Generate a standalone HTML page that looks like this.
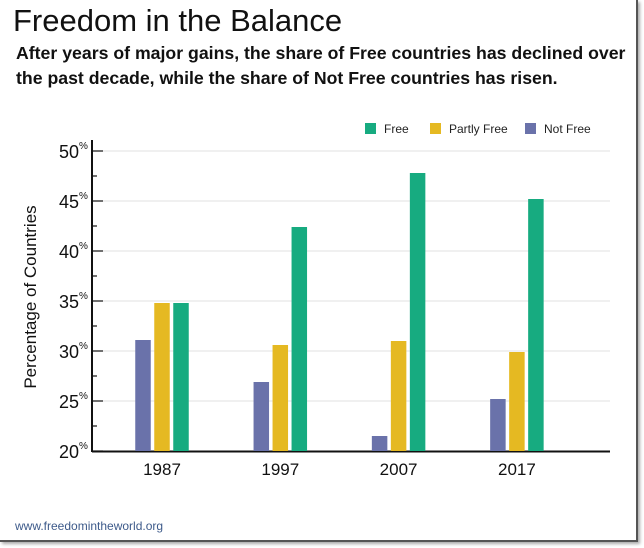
<!DOCTYPE html>
<html><head><meta charset="utf-8"><style>
html,body{margin:0;padding:0;background:#fff;}
body{width:644px;height:548px;overflow:hidden;position:relative;font-family:"Liberation Sans",sans-serif;}
#frame{position:absolute;left:0;top:0;width:636px;height:540px;border-right:2px solid #555;border-bottom:2px solid #555;box-shadow:2px 2px 3px #aaa;}
#title{position:absolute;left:13px;top:3px;font-size:31px;color:#111;}
#sub{position:absolute;left:16px;top:41px;font-size:17.7px;font-weight:bold;line-height:25px;color:#111;}
#foot{position:absolute;left:15px;top:519px;font-size:12px;color:#3d5a8a;}
svg{position:absolute;left:0;top:0;}
</style></head><body>
<div id="frame"></div>
<div id="title">Freedom in the Balance</div>
<div id="sub">After years of major gains, the share of Free countries has declined over<br>the past decade, while the share of Not Free countries has risen.</div>
<div id="foot">www.freedomintheworld.org</div>
<svg id="chart" width="644" height="548"></svg>
<script>
const categories=["1987","1997","2007","2017"];
const notFree=[31.1,26.9,21.5,25.2];
const partlyFree=[34.8,30.6,31.0,29.9];
const free=[34.8,42.4,47.8,45.2];
const yTicks=[20,25,30,35,40,45,50];
const seriesNames=["Free","Partly Free","Not Free"];

const NS="http://www.w3.org/2000/svg";
const svg=document.getElementById('chart');
function mk(t,a){const e=document.createElementNS(NS,t);for(const k in a)e.setAttribute(k,a[k]);svg.appendChild(e);return e;}
const y=v=>451-(v-20)*10;
const x0=92,x1=610;
const gx=i=>162+i*118.3;
const cols={nf:"#6a72aa",pf:"#e5b922",f:"#17ab80"};
yTicks.forEach(t=>{
 if(t>20){const g=mk('line',{x1:103,x2:x1,y1:y(t),y2:y(t),stroke:"#ececec","stroke-width":1.5});
 }
 const tk=mk('line',{x1:x0,x2:103,y1:y(t),y2:y(t),stroke:"#111","stroke-width":1.2});
 
 const tx=mk('text',{x:79,y:y(t)+7,"text-anchor":"end","font-size":18,fill:"#111"});
 tx.textContent=t;
 
 const pc=mk('text',{x:79,y:y(t)-2,"font-size":10,fill:"#111"});pc.textContent="%";
 
 if(t<50){const m=mk('line',{x1:x0,x2:97,y1:y(t+2.5),y2:y(t+2.5),stroke:"#111","stroke-width":1.2});
 }
});
const ax=mk('line',{x1:x0,x2:x0,y1:140,y2:452,stroke:"#111","stroke-width":2});

const bx=mk('line',{x1:x0,x2:x1,y1:451.5,y2:451.5,stroke:"#111","stroke-width":2});

const yt=mk('text',{x:0,y:0,transform:"translate(36,297) rotate(-90)","text-anchor":"middle","font-size":17,fill:"#111"});
yt.textContent="Percentage of Countries";

const bw=15.5;
categories.forEach((c,i)=>{
 const cx=gx(i);
 [[notFree,cols.nf,-19,'bar-not-free'],[partlyFree,cols.pf,0,'bar-partly-free'],[free,cols.f,19,'bar-free']].forEach(([arr,col,off,nm])=>{
  const v=arr[i];
  const r=mk('rect',{x:cx+off-bw/2,y:y(v),width:bw,height:451-y(v),fill:col});
  
 });
 const l=mk('text',{x:cx,y:475,"text-anchor":"middle","font-size":17,fill:"#111"});
 l.textContent=c;
 
});
const lg=[[365,cols.f],[430,cols.pf],[525,cols.nf]];
seriesNames.forEach((n,i)=>{
 const r=mk('rect',{x:lg[i][0],y:123,width:11,height:11,fill:lg[i][1]});
 
 const t=mk('text',{x:lg[i][0]+19,y:133,"font-size":12,fill:"#222"});
 t.textContent=n;
 
});
</script>
</body></html>
